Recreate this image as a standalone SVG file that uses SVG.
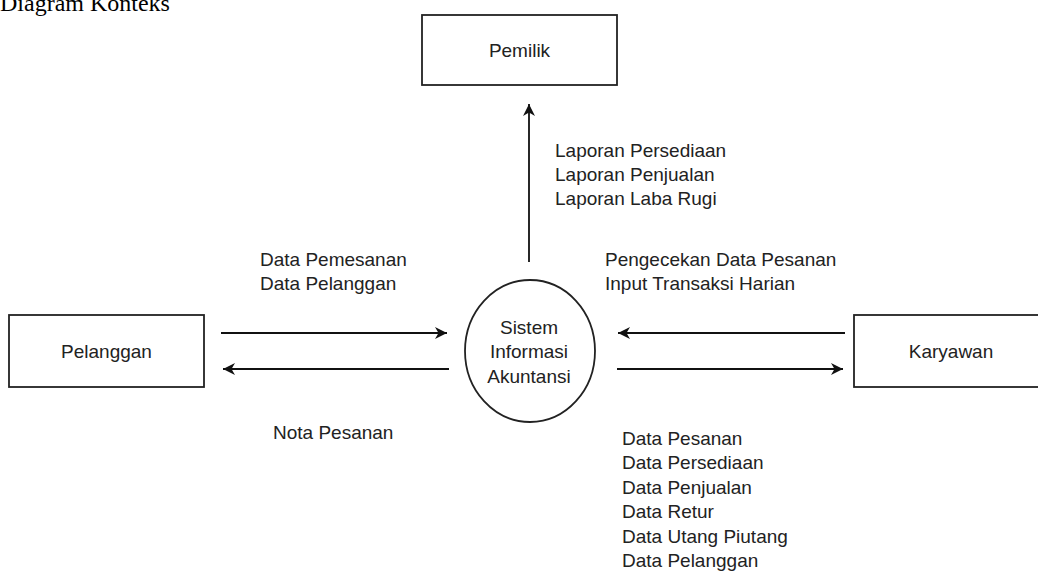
<svg xmlns="http://www.w3.org/2000/svg" width="1038" height="574" viewBox="0 0 1038 574">
<style>
.box{fill:#fff;stroke:#222;stroke-width:1.8}
.t{font-family:"Liberation Sans",Arial,sans-serif;font-size:19px;fill:#222}
.c{text-anchor:middle}
.ln{fill:none;stroke:#111;stroke-width:1.8}
.title{font-family:"Liberation Serif","Times New Roman",serif;font-size:24px;fill:#000}
</style>
<defs>
<marker id="ah" markerUnits="userSpaceOnUse" markerWidth="14" markerHeight="14" viewBox="0 0 14 14" refX="13" refY="7" orient="auto">
<path d="M1,1 L13,7 L1,13 L4.5,7 z" fill="#111"/>
</marker>
</defs>
<rect width="1038" height="574" fill="#fff"/>
<text class="title" x="0" y="11">Diagram Konteks</text>
<g id="pemilik">
<rect class="box" x="422" y="15" width="195" height="70"/>
<text class="t c" x="519.5" y="57">Pemilik</text>
</g>
<g id="pelanggan">
<rect class="box" x="9" y="315" width="195" height="72"/>
<text class="t c" x="106.5" y="358">Pelanggan</text>
</g>
<g id="karyawan">
<rect class="box" x="854" y="315" width="195" height="72"/>
<text class="t c" x="951" y="358">Karyawan</text>
</g>
<g id="sistem">
<ellipse class="box" cx="530" cy="351" rx="65" ry="71"/>
<text class="t c" x="529" y="334">Sistem</text>
<text class="t c" x="529" y="358">Informasi</text>
<text class="t c" x="529" y="383">Akuntansi</text>
</g>
<g id="connectors">
<line class="ln" x1="529" y1="262" x2="529" y2="104" marker-end="url(#ah)"/>
<line class="ln" x1="221" y1="333" x2="447" y2="333" marker-end="url(#ah)"/>
<line class="ln" x1="449" y1="369" x2="223" y2="369" marker-end="url(#ah)"/>
<line class="ln" x1="845" y1="333" x2="618" y2="333" marker-end="url(#ah)"/>
<line class="ln" x1="617" y1="369" x2="843" y2="369" marker-end="url(#ah)"/>
</g>
<g id="labels">
<text class="t" x="555" y="157">Laporan Persediaan</text>
<text class="t" x="555" y="181">Laporan Penjualan</text>
<text class="t" x="555" y="205">Laporan Laba Rugi</text>
<text class="t" x="260" y="266">Data Pemesanan</text>
<text class="t" x="260" y="290">Data Pelanggan</text>
<text class="t" x="605" y="266">Pengecekan Data Pesanan</text>
<text class="t" x="605" y="290">Input Transaksi Harian</text>
<text class="t" x="273" y="439">Nota Pesanan</text>
<text class="t" x="622" y="445">Data Pesanan</text>
<text class="t" x="622" y="469">Data Persediaan</text>
<text class="t" x="622" y="494">Data Penjualan</text>
<text class="t" x="622" y="518">Data Retur</text>
<text class="t" x="622" y="543">Data Utang Piutang</text>
<text class="t" x="622" y="567">Data Pelanggan</text>
</g>
</svg>
